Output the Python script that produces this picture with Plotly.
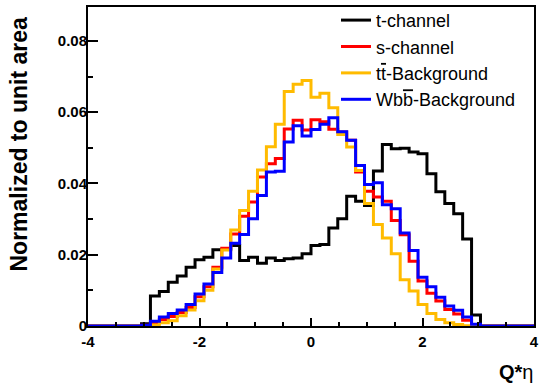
import numpy as np
import plotly.graph_objects as go

# Binning of the Q*eta histograms
x_lo, x_hi, n_bins = -4.0, 4.0, 50
edges = np.linspace(x_lo, x_hi, n_bins + 1)

# Bin contents, normalized to unit area
t_channel = [0, 0, 0, 0, 0, 0,
             0.0006, 0.0084, 0.0097, 0.0123, 0.0140, 0.0165, 0.0186, 0.0193, 0.0214, 0.0215,
             0.0226, 0.0184, 0.0193, 0.0176, 0.0191, 0.0184, 0.0189, 0.0191, 0.0203, 0.0226,
             0.0229, 0.0275, 0.0301, 0.0364, 0.0350, 0.0338, 0.0435, 0.0509, 0.0497, 0.0499,
             0.0488, 0.0483, 0.0427, 0.0377, 0.0344, 0.0315, 0.0244, 0.0031, 0, 0,
             0, 0, 0, 0]
s_channel = [0, 0, 0, 0, 0, 0,
             0.0002, 0.0009, 0.0018, 0.0027, 0.0038, 0.0052, 0.0082, 0.0110, 0.0165, 0.0218,
             0.0258, 0.0308, 0.0348, 0.0418, 0.0455, 0.0470, 0.0553, 0.0577, 0.0550, 0.0579,
             0.0573, 0.0552, 0.0544, 0.0521, 0.0432, 0.0378, 0.0362, 0.0350, 0.0296, 0.0256,
             0.0182, 0.0126, 0.0092, 0.0070, 0.0046, 0.0034, 0.0016, 0.0003, 0, 0,
             0, 0, 0, 0]
ttbar_bkg = [0, 0, 0, 0, 0, 0,
             0.0000, 0.0003, 0.0009, 0.0015, 0.0029, 0.0045, 0.0071, 0.0100, 0.0160, 0.0213,
             0.0269, 0.0324, 0.0378, 0.0438, 0.0503, 0.0566, 0.0658, 0.0678, 0.0689, 0.0642,
             0.0653, 0.0612, 0.0537, 0.0502, 0.0436, 0.0344, 0.0285, 0.0247, 0.0203, 0.0130,
             0.0098, 0.0060, 0.0035, 0.0018, 0.0009, 0.0004, 0.0001, 0, 0, 0,
             0, 0, 0, 0]
wbb_bkg = [0, 0, 0, 0, 0, 0,
           0.0002, 0.0013, 0.0025, 0.0035, 0.0045, 0.0060, 0.0090, 0.0118, 0.0150, 0.0191,
           0.0232, 0.0257, 0.0301, 0.0366, 0.0432, 0.0434, 0.0516, 0.0562, 0.0533, 0.0551,
           0.0566, 0.0584, 0.0545, 0.0521, 0.0450, 0.0397, 0.0402, 0.0340, 0.0329, 0.0261,
           0.0212, 0.0137, 0.0110, 0.0081, 0.0056, 0.0044, 0.0025, 0.0005, 0, 0,
           0, 0, 0, 0]

bar = "<span style='text-decoration:overline'>{}</span>"
series_names = ["t-channel", "s-channel",
                "t" + bar.format("t") + "-Background",
                "Wb" + bar.format("b") + "-Background"]
series_colors = ["#000000", "#ff0000", "#ffbb00", "#0000ff"]
series_values = [t_channel, s_channel, ttbar_bkg, wbb_bkg]

x_tick_vals = [-4, -2, 0, 2, 4]
x_tick_text = ["-4", "-2", "0", "2", "4"]
y_tick_vals = [0, 0.02, 0.04, 0.06, 0.08]
y_tick_text = ["0", "0.02", "0.04", "0.06", "0.08"]

fig = go.Figure()
for name, color, vals in zip(series_names, series_colors, series_values):
    fig.add_trace(go.Scatter(
        x=edges, y=list(vals) + [vals[-1]],
        mode="lines", name=name,
        line=dict(shape="hv", color=color, width=3),
    ))

font_main = "Liberation Sans, Arial, sans-serif"
fig.update_layout(
    width=541, height=390,
    margin=dict(l=88, r=7, t=7, b=64, autoexpand=False),
    paper_bgcolor="white", plot_bgcolor="white",
    font=dict(family=font_main, color="black"),
    showlegend=True,
    legend=dict(x=0.556, y=1.016, xanchor="left", yanchor="top",
                bgcolor="rgba(255,255,255,0)", borderwidth=0,
                font=dict(size=18, family=font_main, color="black"),
                itemwidth=30, tracegroupgap=0),
    xaxis=dict(range=[x_lo, x_hi], showgrid=False, zeroline=False, automargin=False,
               showline=True, linecolor="black", linewidth=2, mirror=True,
               ticks="inside", ticklen=8, tickwidth=2, tickcolor="black",
               tickvals=x_tick_vals, ticktext=x_tick_text, ticklabelstandoff=1,
               tickfont=dict(size=15, family=font_main, weight="bold"),
               minor=dict(ticks="inside", ticklen=4, tickwidth=2, dtick=0.5,
                          tick0=-4, tickcolor="black", showgrid=False)),
    yaxis=dict(range=[0, 0.0895], showgrid=False, zeroline=False, automargin=False,
               showline=True, linecolor="black", linewidth=2, mirror=True,
               ticks="inside", ticklen=10, tickwidth=2, tickcolor="black",
               tickvals=y_tick_vals, ticktext=y_tick_text, ticklabelstandoff=-4,
               tickfont=dict(size=15, family=font_main, weight="bold"),
               minor=dict(ticks="inside", ticklen=5, tickwidth=2, dtick=0.01,
                          tick0=0, tickcolor="black", showgrid=False)),
    annotations=[
        dict(text="<b>Normalized to unit area</b>", textangle=-90,
             xref="paper", yref="paper", x=-0.1536, y=0.5705,
             xanchor="center", yanchor="middle", showarrow=False,
             font=dict(size=23, family=font_main, color="black")),
        dict(text="<b>Q*</b>\u03b7",
             xref="paper", yref="paper", x=1.002, y=-0.143,
             xanchor="right", yanchor="middle", showarrow=False,
             font=dict(size=20, family=font_main, color="black")),
    ],
)

fig.write_html("out.html")
